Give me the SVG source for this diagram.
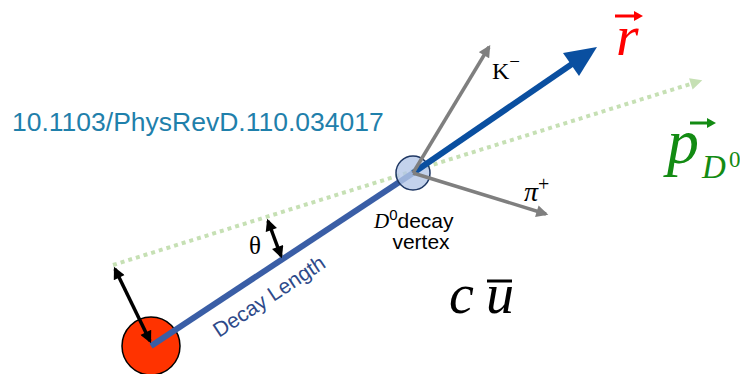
<svg xmlns="http://www.w3.org/2000/svg" width="740" height="374" viewBox="0 0 740 374">
<style>
.serif{font-family:"Liberation Serif","Times New Roman",serif}
.sans{font-family:"Liberation Sans",Arial,sans-serif}
.gray{stroke:#7f7f7f;stroke-width:3.5;fill:none}
.blk{stroke:#000;stroke-width:3.5;fill:none}
</style>
<defs>
<marker id="mg" markerUnits="userSpaceOnUse" viewBox="0 0 10 10" markerWidth="13" markerHeight="12" refX="8" refY="5" orient="auto"><path d="M0,0 L10,5 L0,10 z" fill="#7f7f7f"/></marker>
<marker id="mb" markerUnits="userSpaceOnUse" viewBox="0 0 10 10" markerWidth="13" markerHeight="12" refX="8" refY="5" orient="auto-start-reverse"><path d="M0,0 L10,5 L0,10 z" fill="#000"/></marker>
<marker id="mgr" markerUnits="userSpaceOnUse" viewBox="0 0 10 10" markerWidth="13" markerHeight="12" refX="8" refY="5" orient="auto"><path d="M0,0 L10,5 L0,10 z" fill="#c6e0b4"/></marker>
</defs>
<g id="connectors">
<line id="p-direction" x1="113" y1="265" x2="700" y2="81" stroke="#c6e0b4" stroke-width="4" stroke-dasharray="4 4" marker-end="url(#mgr)"/>
</g>
<g id="primary-vertex"><circle cx="151" cy="346" r="29" fill="#ff3300" stroke="#000" stroke-width="1.5"/></g>
<g id="decay-length"><line x1="151" y1="346" x2="413" y2="173" stroke="#3a5ea6" stroke-width="6"/></g>
<g id="decay-vertex"><circle cx="413" cy="173" r="17" fill="#b4c7e7" fill-opacity="0.8" stroke="#1f3864" stroke-width="1.5"/></g>
<g id="connectors-2">
<line id="r-arrow" x1="413" y1="173" x2="572" y2="64" stroke="#0a4fa0" stroke-width="6"/>
<polygon points="597,47 563,53 579,76" fill="#0a4fa0"/>
<line id="k-arrow" class="gray" x1="413" y1="173" x2="489" y2="47" marker-end="url(#mg)"/>
<line id="pi-arrow" class="gray" x1="413" y1="173" x2="546" y2="214" marker-end="url(#mg)"/>
<line id="impact-arrow" class="blk" x1="115" y1="269" x2="150" y2="341" marker-start="url(#mb)" marker-end="url(#mb)"/>
<line id="theta-arrow" class="blk" x1="268" y1="221" x2="281" y2="256" marker-start="url(#mb)" marker-end="url(#mb)"/>
</g>
<g id="labels">
<text class="sans" x="12" y="131" font-size="26.5" fill="#1f80ab">10.1103/PhysRevD.110.034017</text>
<text class="sans" x="219" y="338" font-size="21" fill="#2e4a8a" transform="rotate(-33.5 219 338)">Decay Length</text>
<text class="serif" x="249" y="254" font-size="25">θ</text>
<text class="serif" x="492" y="79" font-size="24">K<tspan font-size="19" dy="-11">−</tspan></text>
<text class="serif" x="524" y="201" font-size="28" font-style="italic">π<tspan font-size="20" font-style="normal" dy="-10">+</tspan></text>
<text x="374" y="228" font-size="21"><tspan class="serif" font-style="italic">D</tspan><tspan class="sans" font-size="15" dy="-8">0</tspan><tspan class="sans" dy="8">decay</tspan></text>
<text class="sans" x="421" y="249" font-size="21" text-anchor="middle">vertex</text>
<text class="serif" x="449" y="313" font-size="56" font-style="italic">c</text>
<text class="serif" x="486" y="313" font-size="56" font-style="italic">u</text>
<line x1="487" y1="281" x2="512" y2="281" stroke="#000" stroke-width="3"/>
<text class="serif" x="616" y="55" font-size="58" font-style="italic" fill="#ff0000">r</text>
<line x1="615" y1="16" x2="636" y2="16" stroke="#ff0000" stroke-width="3"/>
<polygon points="643,16 634,11 634,21" fill="#ff0000"/>
<text class="serif" x="667" y="163" font-size="64" font-style="italic" fill="#138b13">p</text>
<text class="serif" x="702" y="178" font-size="33" font-style="italic" fill="#138b13">D</text>
<text class="serif" x="729" y="167" font-size="23" fill="#138b13">0</text>
<line x1="690" y1="123" x2="708" y2="123" stroke="#138b13" stroke-width="3"/>
<polygon points="716,123 707,118 707,128" fill="#138b13"/>
</g>
</svg>
